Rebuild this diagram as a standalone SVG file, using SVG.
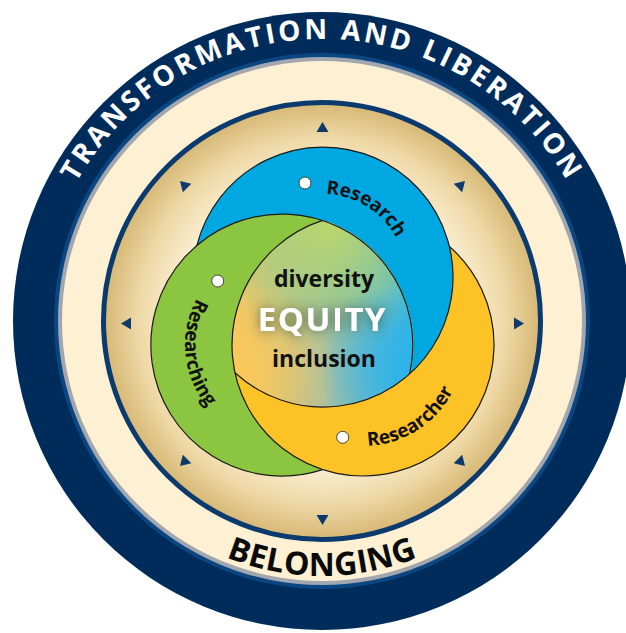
<svg xmlns="http://www.w3.org/2000/svg" width="626" height="633" viewBox="0 0 626 633">
<defs>
<style>
.lbl{font-family:"Open Sans","Liberation Sans",sans-serif;font-weight:700;fill:#111;}
.outline{fill:none;stroke:#1a1a1a;stroke-width:1.2;}
.dot{fill:#fff;stroke:#333;stroke-width:0.9;}
.tri{fill:#0d3a6b;}
</style>
<radialGradient id="gold" gradientUnits="userSpaceOnUse" cx="322" cy="321" r="216">
<stop offset="0" stop-color="#fffaf0"/>
<stop offset="0.66" stop-color="#fcf0d6"/>
<stop offset="0.85" stop-color="#eed8a6"/>
<stop offset="1" stop-color="#d8ba78"/>
</radialGradient>
<linearGradient id="cBase" gradientUnits="userSpaceOnUse" x1="235" y1="330" x2="412" y2="330">
<stop offset="0" stop-color="#f4c862"/>
<stop offset="0.5" stop-color="#aac0a0"/>
<stop offset="1" stop-color="#33b5e8"/>
</linearGradient>
<radialGradient id="cTop" gradientUnits="userSpaceOnUse" cx="330" cy="225" r="125">
<stop offset="0" stop-color="#bcd86a" stop-opacity="1"/>
<stop offset="0.55" stop-color="#a2cf7e" stop-opacity="0.65"/>
<stop offset="1" stop-color="#8ecb90" stop-opacity="0"/>
</radialGradient>
<radialGradient id="cBL" gradientUnits="userSpaceOnUse" cx="242" cy="372" r="95">
<stop offset="0" stop-color="#fbc858" stop-opacity="0.9"/>
<stop offset="1" stop-color="#fbc858" stop-opacity="0"/>
</radialGradient>
<radialGradient id="cBR" gradientUnits="userSpaceOnUse" cx="405" cy="368" r="85">
<stop offset="0" stop-color="#2cb3ea" stop-opacity="0.9"/>
<stop offset="1" stop-color="#2cb3ea" stop-opacity="0"/>
</radialGradient>
<filter id="glow" x="-30%" y="-80%" width="160%" height="260%">
<feGaussianBlur in="SourceAlpha" stdDeviation="6" result="b"/>
<feFlood flood-color="#2f3f35" flood-opacity="0.75"/>
<feComposite in2="b" operator="in"/>
<feMerge><feMergeNode/><feMergeNode in="SourceGraphic"/></feMerge>
</filter>
<clipPath id="clipGreen"><circle cx="282" cy="345" r="131.6"/></clipPath>
<path id="pTop" d="M66.4,201.8 A282,282 0 0 1 577.6,201.8"/>
<path id="pBottom" d="M141.7,501.3 A255,255 0 0 0 502.3,501.3"/>
<path id="pBlue" d="M284,203.7 A83,83 0 0 1 405.95,279.9"/>
<path id="pGreen" d="M225.5,266.1 A97,97 0 0 0 241.9,433.3"/>
<path id="pYellow" d="M317.1,435 A101,101 0 0 0 463.9,339.7"/>
<polygon id="tri" points="0,-5.5 6,4.5 -6,4.5"/>
</defs>

<g id="outer-ring">
<circle cx="322" cy="321" r="309" fill="#002c5b"/>
<circle cx="322" cy="321" r="268" fill="#0a4682"/>
<circle cx="322" cy="321" r="264" fill="#a2a6ae"/>
<circle cx="322" cy="321" r="260" fill="#fdf0d3"/>
<text class="lbl" style="fill:#fff;font-size:28px;letter-spacing:3px" text-anchor="middle"><textPath href="#pTop" startOffset="50%" text-anchor="middle">TRANSFORMATION AND LIBERATION</textPath></text>
</g>

<g id="belonging-band">
<text class="lbl" style="font-size:32px;fill:#0a0a0a;letter-spacing:0.5px" text-anchor="middle"><textPath href="#pBottom" startOffset="50%" text-anchor="middle">BELONGING</textPath></text>
</g>

<g id="gold-disc">
<circle cx="322" cy="321" r="218.5" fill="url(#gold)" stroke="#0b3a6e" stroke-width="5"/>
</g>

<g id="arrows">
<use href="#tri" class="tri" transform="translate(322.5,323.5) rotate(0) translate(0,-196)"/>
<use href="#tri" class="tri" transform="translate(322.5,323.5) rotate(45) translate(0,-196)"/>
<use href="#tri" class="tri" transform="translate(322.5,323.5) rotate(90) translate(0,-196)"/>
<use href="#tri" class="tri" transform="translate(322.5,323.5) rotate(135) translate(0,-196)"/>
<use href="#tri" class="tri" transform="translate(322.5,323.5) rotate(180) translate(0,-196)"/>
<use href="#tri" class="tri" transform="translate(322.5,323.5) rotate(225) translate(0,-196)"/>
<use href="#tri" class="tri" transform="translate(322.5,323.5) rotate(270) translate(0,-196)"/>
<use href="#tri" class="tri" transform="translate(322.5,323.5) rotate(315) translate(0,-196)"/>
</g>

<g id="circle-fills">
<circle cx="363" cy="345" r="131" fill="#fdc226"/>
<circle cx="323" cy="277" r="130" fill="#00a8e1"/>
<circle cx="282" cy="345" r="131" fill="#8cc540"/>
<circle cx="363" cy="345" r="131" fill="#fdc226" clip-path="url(#clipGreen)"/>
</g>

<g id="node-equity">
<path d="M322.5,220.4 A131,131 0 0 1 409.7,373.7 A130,130 0 0 1 235,372.7 A131,131 0 0 1 322.5,220.4 Z" fill="url(#cBase)"/>
<path d="M322.5,220.4 A131,131 0 0 1 409.7,373.7 A130,130 0 0 1 235,372.7 A131,131 0 0 1 322.5,220.4 Z" fill="url(#cTop)"/>
<path d="M322.5,220.4 A131,131 0 0 1 409.7,373.7 A130,130 0 0 1 235,372.7 A131,131 0 0 1 322.5,220.4 Z" fill="url(#cBL)"/>
<path d="M322.5,220.4 A131,131 0 0 1 409.7,373.7 A130,130 0 0 1 235,372.7 A131,131 0 0 1 322.5,220.4 Z" fill="url(#cBR)"/>
<text class="lbl" x="324" y="287" text-anchor="middle" style="font-size:23px">diversity</text>
<text class="lbl" x="322.5" y="331" text-anchor="middle" filter="url(#glow)" style="font-size:33px;fill:#fff;letter-spacing:1.5px">EQUITY</text>
<text class="lbl" x="324" y="367" text-anchor="middle" style="font-size:23px">inclusion</text>
</g>

<g id="node-research">
<path class="outline" d="M196.9,245.5 A130,130 0 1 1 235,372.7"/>
<circle class="dot" cx="305" cy="183" r="6"/>
<text class="lbl" style="font-size:19px" text-anchor="middle"><textPath href="#pBlue" startOffset="50%" text-anchor="middle">Research</textPath></text>
</g>

<g id="node-researching">
<path class="outline" d="M322.5,469.6 A131,131 0 1 1 409.7,373.7"/>
<circle class="dot" cx="217.7" cy="281" r="6"/>
<text class="lbl" style="font-size:19px" text-anchor="middle"><textPath href="#pGreen" startOffset="50%" text-anchor="middle">Researching</textPath></text>
</g>

<g id="node-researcher">
<path class="outline" d="M449.4,246.5 A131,131 0 1 1 322.5,220.4"/>
<circle class="dot" cx="342.7" cy="437.3" r="6"/>
<text class="lbl" style="font-size:19px" text-anchor="middle"><textPath href="#pYellow" startOffset="50%" text-anchor="middle">Researcher</textPath></text>
</g>
</svg>
